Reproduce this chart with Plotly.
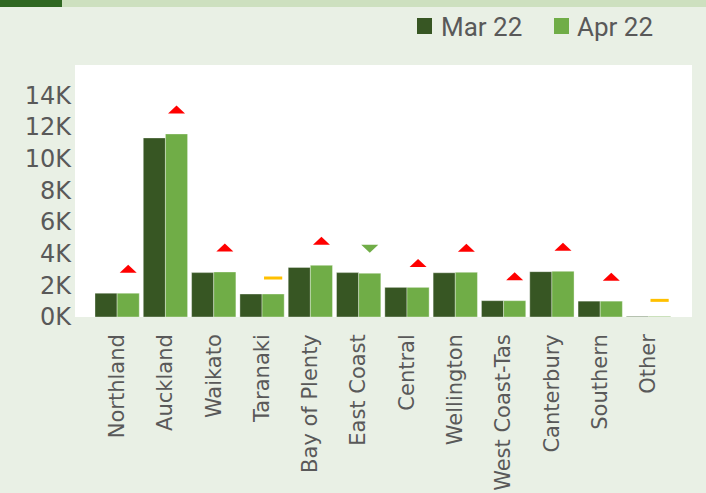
import plotly.graph_objects as go

# ---- data ----
regions = ["Northland", "Auckland", "Waikato", "Taranaki", "Bay of Plenty", "East Coast",
           "Central", "Wellington", "West Coast-Tas", "Canterbury", "Southern", "Other"]
mar_22 = [1500, 11300, 2800, 1450, 3130, 2800, 1870, 2790, 1030, 2860, 1000, 40]
apr_22 = [1500, 11550, 2840, 1450, 3260, 2760, 1870, 2820, 1030, 2880, 1000, 40]
trend = ["up", "up", "up", "flat", "up", "down", "up", "up", "up", "up", "up", "flat"]
series_names = ["Mar 22", "Apr 22"]
y_tickvals = [0, 2000, 4000, 6000, 8000, 10000, 12000, 14000]
y_ticktext = ["0K", "2K", "4K", "6K", "8K", "10K", "12K", "14K"]

# ---- styles ----
DARK = "#375623"
LIGHT = "#70ad47"
BG = "#e9f0e5"
TXT = "#595959"

W, H = 706, 493
L, R, T, B = 75, 14, 65, 176
PW, PH = W - L - R, H - T - B


def px_x(px):
    return (px - L) / PW


def px_y(py):
    return (H - B - py) / PH


xs = list(range(len(regions)))
bargap = 0.083
apr_off = (1 - bargap) / 4

fig = go.Figure()
fig.add_trace(go.Bar(x=xs, y=mar_22, name=series_names[0], marker_color=DARK,
                     marker_line=dict(width=0.6, color="rgba(255,255,255,0.6)"),
                     showlegend=False))
fig.add_trace(go.Bar(x=xs, y=apr_22, name=series_names[1], marker_color=LIGHT,
                     marker_line=dict(width=0.6, color="rgba(255,255,255,0.6)"),
                     showlegend=False))

# flat indicators (dash) above the Apr bars
flat_idx = [i for i, t in enumerate(trend) if t == "flat"]
fig.add_trace(go.Scatter(
    x=[xs[i] + apr_off for i in flat_idx],
    y=[apr_22[i] + 1010 for i in flat_idx],
    mode="markers",
    marker=dict(symbol="line-ew", size=13, color="#ffc000", line=dict(width=3, color="#ffc000")),
    showlegend=False, hoverinfo="skip"))

shapes = []
# up / down triangles above the Apr bars (pixel-sized, anchored to data)
tri_paths = {"up": "M-8.5,-4 L8.5,-4 L0,4 Z", "down": "M-8.5,4 L8.5,4 L0,-4 Z"}
tri_cols = {"up": "#ff0000", "down": LIGHT}
for i, t in enumerate(trend):
    if t in tri_paths:
        shapes.append(dict(type="path", xref="x", yref="y", xsizemode="pixel", ysizemode="pixel",
                           xanchor=xs[i] + apr_off, yanchor=apr_22[i] + 1545,
                           path=tri_paths[t], fillcolor=tri_cols[t], line_width=0))

shapes += [
    dict(type="rect", xref="paper", yref="paper", x0=px_x(0), x1=px_x(62), y0=px_y(7), y1=px_y(0),
         fillcolor="#2f6722", line_width=0, layer="above"),
    dict(type="rect", xref="paper", yref="paper", x0=px_x(62), x1=px_x(W), y0=px_y(7), y1=px_y(0),
         fillcolor="#cde0bf", line_width=0, layer="above"),
]
annotations = []
legend_pos = [(417, 439), (554, 575)]
for (sq_x, tx_x), name, col in zip(legend_pos, series_names, [DARK, LIGHT]):
    shapes.append(dict(type="rect", xref="paper", yref="paper", x0=px_x(sq_x), x1=px_x(sq_x + 15),
                       y0=px_y(34), y1=px_y(18), fillcolor=col, line_width=0))
    annotations.append(dict(text=name, xref="paper", yref="paper", x=px_x(tx_x), y=px_y(27),
                            xanchor="left", yanchor="middle", showarrow=False,
                            font=dict(family="Roboto", size=26, color=TXT)))

fig.update_layout(
    width=W, height=H, autosize=False,
    margin=dict(l=L, r=R, t=T, b=B, pad=0, autoexpand=False),
    paper_bgcolor=BG, plot_bgcolor="white",
    barmode="group", bargap=bargap, bargroupgap=0,
    shapes=shapes, annotations=annotations,
    showlegend=False,
)
fig.update_xaxes(range=[-0.872, 11.90], tickvals=xs, ticktext=regions, tickangle=-90,
                 showgrid=False, zeroline=False, showline=False, ticks="",
                 ticklabelstandoff=12, automargin=False,
                 tickfont=dict(family="DejaVu Sans", size=21, color=TXT))
fig.update_yaxes(range=[0, 15900], tickvals=y_tickvals, ticktext=y_ticktext,
                 showgrid=False, zeroline=False, showline=False, ticks="",
                 ticklabelstandoff=3, automargin=False,
                 tickfont=dict(family="DejaVu Sans", size=24, color=TXT))

fig.write_html("out.html", config={"displayModeBar": False},
               post_script="document.body.style.margin='0';document.body.style.overflow='hidden';")
